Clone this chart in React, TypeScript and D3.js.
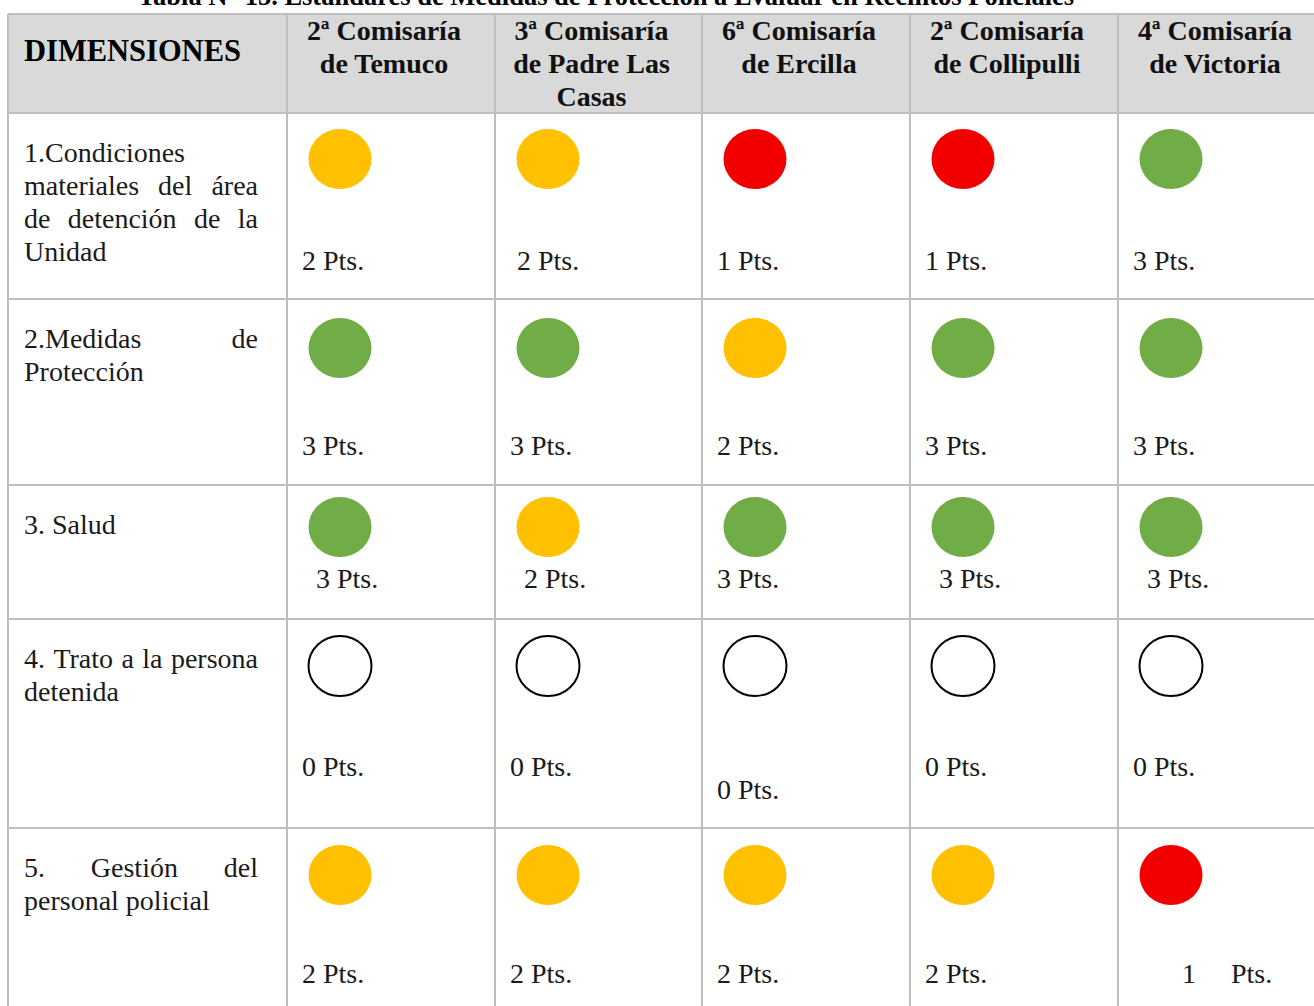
import React, { useEffect, useRef } from "react";
import * as d3 from "d3";

// ---------- data ----------
const titulo = "Tabla N° 15. Estándares de Medidas de Protección a Evaluar en Recintos Policiales";
const encabezadoDimension = "DIMENSIONES";
const comisarias: string[][] = [
  ["2ª Comisaría", "de Temuco"],
  ["3ª Comisaría", "de Padre Las", "Casas"],
  ["6ª Comisaría", "de Ercilla"],
  ["2ª Comisaría", "de Collipulli"],
  ["4ª Comisaría", "de Victoria"],
];
// each line: [text, justified?]
const dimensiones: [string, boolean][][] = [
  [["1.Condiciones", false], ["materiales del área", true], ["de detención de la", true], ["Unidad", false]],
  [["2.Medidas de", true], ["Protección", false]],
  [["3. Salud", false]],
  [["4. Trato a la persona", true], ["detenida", false]],
  [["5. Gestión del", true], ["personal policial", false]],
];
const puntajes: number[][] = [
  [2, 2, 1, 1, 3],
  [3, 3, 2, 3, 3],
  [3, 2, 3, 3, 3],
  [0, 0, 0, 0, 0],
  [2, 2, 2, 2, 1],
];
const etiquetas: string[][] = [
  ["2 Pts.", " 2 Pts.", "1 Pts.", "1 Pts.", "3 Pts."],
  ["3 Pts.", "3 Pts.", "2 Pts.", "3 Pts.", "3 Pts."],
  ["  3 Pts.", "  2 Pts.", "3 Pts.", "  3 Pts.", "  3 Pts."],
  ["0 Pts.", "0 Pts.", "0 Pts.", "0 Pts.", "0 Pts."],
  ["2 Pts.", "2 Pts.", "2 Pts.", "2 Pts.", "       1     Pts."],
];

// ---------- layout ----------
const W = 1314;
const H = 1006;
const tableLeft = 8;
const tableRight = 1326;
const tableTop = 14;
const colEdges = [8, 287, 495, 702, 910, 1118, 1326];
const rowEdges = [14, 113, 299, 485, 619, 828, 1040];
const rowCircleDy = [46, 49, 42, 47, 47];
const rowLabelDy = [157, 156, 103, 157, 155];
const colorFor: Record<number, string> = { 3: "#70AD47", 2: "#FFC000", 1: "#F20000", 0: "#FFFFFF" };
const gridColor = "#BFBFBF";
const headFill = "#D9D9D9";
const bodyFont = "'Liberation Serif', 'Times New Roman', serif";

export default function App() {
  const ref = useRef<SVGSVGElement>(null);

  useEffect(() => {
    const svg = d3.select(ref.current);
    svg.selectAll("*").remove();

    const x = d3.scaleOrdinal<number, number>().domain(d3.range(colEdges.length)).range(colEdges);
    const y = d3.scaleOrdinal<number, number>().domain(d3.range(rowEdges.length)).range(rowEdges);

    svg.append("rect").attr("width", W).attr("height", H).attr("fill", "#fff");

    // header background
    svg.append("rect")
      .attr("x", tableLeft).attr("y", tableTop)
      .attr("width", tableRight - tableLeft).attr("height", rowEdges[1] - rowEdges[0])
      .attr("fill", headFill);

    // grid
    const g = svg.append("g").attr("stroke", gridColor).attr("stroke-width", 2);
    rowEdges.slice(0, -1).forEach((_, i) => {
      g.append("line").attr("x1", tableLeft).attr("x2", tableRight).attr("y1", y(i)).attr("y2", y(i));
    });
    colEdges.forEach((_, i) => {
      g.append("line").attr("x1", x(i)).attr("x2", x(i)).attr("y1", tableTop).attr("y2", H + 20);
    });

    // title (partly above the page, as in the reference)
    svg.append("text")
      .attr("x", 606).attr("y", 5)
      .attr("text-anchor", "middle")
      .attr("font-family", bodyFont).attr("font-weight", "bold").attr("font-size", 26.5)
      .text(titulo);

    // header texts
    svg.append("text")
      .attr("x", 24).attr("y", 61)
      .attr("font-family", bodyFont).attr("font-weight", "bold").attr("font-size", 30.5)
      .text(encabezadoDimension);
    comisarias.forEach((lines, c) => {
      const cx = (x(c + 1) + x(c + 2)) / 2 - 7;
      lines.forEach((ln, k) => {
        svg.append("text")
          .attr("x", cx).attr("y", 40 + k * 33)
          .attr("text-anchor", "middle")
          .attr("font-family", bodyFont).attr("font-weight", "bold").attr("font-size", 28)
          .attr("fill", "#111")
          .text(ln);
      });
    });

    // dimension labels (justified lines)
    const textLeft = 24;
    const textRight = 258;
    const bodySize = 28;
    dimensiones.forEach((lines, r) => {
      const top = y(r + 1);
      lines.forEach(([ln, just], k) => {
        const base = top + 49 + k * 33;
        if (!just) {
          svg.append("text")
            .attr("x", textLeft).attr("y", base)
            .attr("font-family", bodyFont).attr("font-size", bodySize)
            .attr("fill", "#1a1a1a")
            .text(ln);
          return;
        }
        const words = ln.split(" ");
        const nodes = words.map((w) =>
          svg.append("text")
            .attr("y", base)
            .attr("font-family", bodyFont).attr("font-size", bodySize)
            .attr("fill", "#1a1a1a")
            .text(w)
        );
        const widths = nodes.map((n) => (n.node() as SVGTextElement).getComputedTextLength());
        const total = d3.sum(widths);
        const gap = words.length > 1 ? (textRight - textLeft - total) / (words.length - 1) : 0;
        let cur = textLeft;
        nodes.forEach((n, i) => {
          n.attr("x", cur);
          cur += widths[i] + gap;
        });
      });
    });

    // circles & labels
    puntajes.forEach((row, r) => {
      const top = y(r + 1);
      row.forEach((v, c) => {
        const left = x(c + 1);
        svg.append("ellipse")
          .attr("cx", left + 53).attr("cy", top + rowCircleDy[r])
          .attr("rx", 31.5).attr("ry", 30)
          .attr("fill", colorFor[v])
          .attr("stroke", v === 0 ? "#000" : "none")
          .attr("stroke-width", 2);
        const extra = r === 3 && c === 2 ? 23 : 0;
        svg.append("text")
          .attr("x", left + 15).attr("y", top + rowLabelDy[r] + extra)
          .attr("font-family", bodyFont).attr("font-size", bodySize)
          .attr("fill", "#1a1a1a")
          .style("white-space", "pre")
          .text(etiquetas[r][c]);
      });
    });
  }, []);

  return (
    <svg
      ref={ref}
      width={W}
      height={H}
      style={{ position: "absolute", left: 0, top: 0, display: "block" }}
    />
  );
}
